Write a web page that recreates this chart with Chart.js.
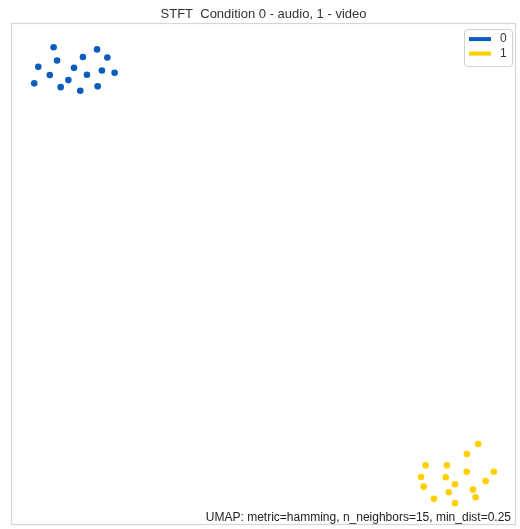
<!DOCTYPE html>
<html>
<head>
<meta charset="utf-8">
<script src="https://cdn.jsdelivr.net/npm/chart.js@4/dist/chart.umd.min.js"></script>
<style>
  html, body { margin: 0; padding: 0; background: #ffffff; }
  #wrap { width: 520px; height: 529px; }
</style>
</head>
<body>
<div id="wrap"><canvas id="c" width="520" height="529"></canvas></div>
<script>
// UMAP embedding, one series per condition
const conditionLabels = ['0', '1'];
const conditionColors = ['#0b5cbf', '#ffd000'];

const audioX = [-2.89, -0.74, -2.72, -1.44, -0.23, -3.65, -1.88, -0.50, -3.08, -1.24, 0.13, -2.16, -3.85, -2.54, -1.57, -0.71];
const audioY = [18.80, 18.69, 18.14, 18.31, 18.29, 17.82, 17.77, 17.64, 17.41, 17.43, 17.53, 17.16, 17.00, 16.81, 16.63, 16.85];

const videoX = [18.13, 17.57, 15.53, 16.58, 17.56, 18.90, 15.30, 16.52, 16.98, 18.50, 15.43, 17.87, 16.67, 18.00, 15.94, 16.98];
const videoY = [-0.97, -1.46, -2.03, -2.03, -2.35, -2.35, -2.61, -2.62, -2.97, -2.81, -3.09, -3.24, -3.37, -3.62, -3.69, -3.92];

const axisRange = { xMin: -5, xMax: 20, yMin: -5, yMax: 20 };

const titleText = 'STFT  Condition 0 - audio, 1 - video';
const noteText = 'UMAP: metric=hamming, n_neighbors=15, min_dist=0.25';

const toPoints = (xs, ys) => xs.map((x, i) => ({ x: x, y: ys[i] }));

const FONT = '"Liberation Sans", Arial, sans-serif';

// Frame, boxed legend and parameter note drawn over the plot area
const decorations = {
  id: 'decorations',
  afterDraw(chart) {
    const ctx = chart.ctx;
    const a = chart.chartArea;
    ctx.save();

    // axes frame
    ctx.strokeStyle = '#d6d6d6';
    ctx.lineWidth = 1.2;
    ctx.strokeRect(Math.round(a.left) + 0.5, Math.round(a.top) + 0.5,
                   Math.round(a.right - a.left) - 1, Math.round(a.bottom - a.top) - 1);

    // legend box
    const lx = a.right - 52, ly = a.top + 6, lw = 48, lh = 37;
    ctx.beginPath();
    ctx.roundRect(lx + 0.5, ly + 0.5, lw, lh, 3);
    ctx.fillStyle = 'rgba(255,255,255,0.85)';
    ctx.fill();
    ctx.strokeStyle = '#d0d0d0';
    ctx.lineWidth = 1;
    ctx.stroke();

    ctx.font = '12px ' + FONT;
    ctx.textBaseline = 'middle';
    ctx.textAlign = 'left';
    chart.data.datasets.forEach((ds, i) => {
      const cy = ly + 10 + i * 14.5;
      ctx.fillStyle = ds.backgroundColor;
      ctx.fillRect(lx + 5, cy - 2, 22, 4);
      ctx.fillStyle = '#333333';
      ctx.fillText(ds.label, lx + 36, cy);
    });

    // parameter note
    ctx.font = '12px ' + FONT;
    ctx.textAlign = 'right';
    ctx.textBaseline = 'alphabetic';
    ctx.fillStyle = '#222222';
    ctx.fillText(noteText, a.right - 5, a.bottom - 4);

    ctx.restore();
  }
};

new Chart(document.getElementById('c'), {
  type: 'scatter',
  data: {
    datasets: [
      {
        label: conditionLabels[0],
        data: toPoints(audioX, audioY),
        backgroundColor: conditionColors[0],
        borderColor: conditionColors[0],
        borderWidth: 0,
        pointRadius: 3.3,
        pointHoverRadius: 3.3
      },
      {
        label: conditionLabels[1],
        data: toPoints(videoX, videoY),
        backgroundColor: conditionColors[1],
        borderColor: conditionColors[1],
        borderWidth: 0,
        pointRadius: 3.3,
        pointHoverRadius: 3.3
      }
    ]
  },
  options: {
    responsive: false,
    animation: false,
    layout: { padding: { left: 11, right: 4, top: 0, bottom: 4 } },
    scales: {
      x: { type: 'linear', display: false, min: axisRange.xMin, max: axisRange.xMax },
      y: { type: 'linear', display: false, min: axisRange.yMin, max: axisRange.yMax }
    },
    plugins: {
      legend: { display: false },
      tooltip: { enabled: false },
      title: {
        display: true,
        text: titleText,
        color: '#333333',
        font: { family: FONT, size: 13, weight: 'normal' },
        padding: { top: 6.5, bottom: 1 }
      }
    }
  },
  plugins: [decorations]
});
</script>
</body>
</html>
